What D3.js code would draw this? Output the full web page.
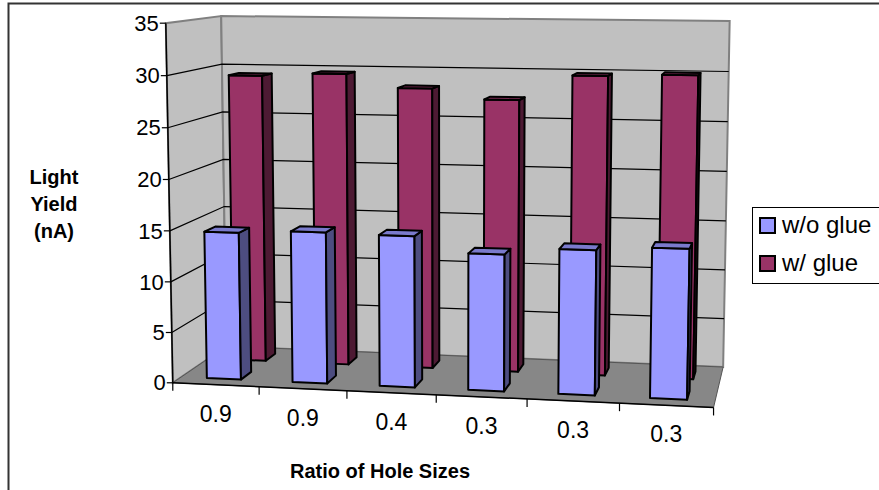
<!DOCTYPE html>
<html>
<head>
<meta charset="utf-8">
<script src="https://cdn.jsdelivr.net/npm/d3@7/dist/d3.min.js"></script>
<style>
  body { margin: 0; background: #fff; }
  svg { display: block; }
  text { font-family: "Liberation Sans", Arial, sans-serif; fill: #000; }
</style>
</head>
<body>
<svg id="chart"></svg>
<script>
const width = 879, height = 490;

// data
const categories = ["0.9", "0.9", "0.4", "0.3", "0.3", "0.3"];
const seriesNames = ["w/o glue", "w/ glue"];
const withoutGlue = [14.6, 14.9, 14.8, 13.3, 14.0, 14.4];
const withGlue = [29.3, 29.6, 28.3, 27.3, 29.8, 30.0];
const yTicks = [0, 5, 10, 15, 20, 25, 30, 35];

const seriesValues = { "w/o glue": withoutGlue, "w/ glue": withGlue };
const faceColors = {
    "w/o glue": { front: "#9999FF", side: "#4D4D80", top: "#7A7ACC" },
    "w/ glue": { front: "#993366", side: "#4D1A33", top: "#7A2952" }
};

// scales: category across, series in depth, value up (all to 0..1 in box space)
const xScale = d3.scaleBand().domain(d3.range(categories.length)).range([0, 1])
    .paddingInner(0.6).paddingOuter(0.3);
const zScale = d3.scaleBand().domain(seriesNames).range([0, 1])
    .paddingInner(0.6).paddingOuter(0.3);
const vScale = d3.scaleLinear().domain([0, 35]).range([0, 1]);

// where the corners of the plot box land on screen: [u, value, depth, x, y]
const boxCorners = [
    [0, 0, 0, 172, 382], [1, 0, 0, 713, 408],
    [0, 0, 1, 226, 347], [1, 0, 1, 723, 367],
    [0, 35, 0, 165, 24], [0, 35, 1, 222, 15], [1, 35, 1, 731, 21],
    [0, 30, 1, 222, 65], [1, 30, 1, 727, 71],
    [1/6, 0, 0, 260, 386.2], [2/6, 0, 0, 347, 390.4], [3/6, 0, 0, 436, 394.7],
    [4/6, 0, 0, 528, 399.1], [5/6, 0, 0, 620, 403.5]
];

// fit a perspective camera (DLT, least squares)
const CX = 440, CY = 220, S = 300;
function fitCamera(pts) {
    const rows = [], rhs = [];
    pts.forEach(([X, Y, Z, x, y]) => {
        const sx = (x - CX) / S, sy = (y - CY) / S;
        rows.push([X, Y, Z, 1, 0, 0, 0, 0, -sx * X, -sx * Y, -sx * Z]); rhs.push(sx);
        rows.push([0, 0, 0, 0, X, Y, Z, 1, -sy * X, -sy * Y, -sy * Z]); rhs.push(sy);
    });
    const n = 11;
    const M = d3.range(n).map(() => new Array(n + 1).fill(0));
    rows.forEach((r, k) => {
        for (let i = 0; i < n; i++) {
            for (let j = 0; j < n; j++) M[i][j] += r[i] * r[j];
            M[i][n] += r[i] * rhs[k];
        }
    });
    for (let c = 0; c < n; c++) {
        let piv = c;
        for (let r = c + 1; r < n; r++) if (Math.abs(M[r][c]) > Math.abs(M[piv][c])) piv = r;
        [M[c], M[piv]] = [M[piv], M[c]];
        for (let r = 0; r < n; r++) {
            if (r === c) continue;
            const f = M[r][c] / M[c][c];
            for (let k = c; k <= n; k++) M[r][k] -= f * M[c][k];
        }
    }
    return d3.range(n).map(i => M[i][n] / M[i][i]);
}
const P = fitCamera(boxCorners.map(([u, v, z, x, y]) => [u, vScale(v), z, x, y]));

function proj(u, h, z) {
    const w = P[8] * u + P[9] * h + P[10] * z + 1;
    return [
        (P[0] * u + P[1] * h + P[2] * z + P[3]) / w * S + CX,
        (P[4] * u + P[5] * h + P[6] * z + P[7]) / w * S + CY
    ];
}
const pts = list => list.map(p => proj(...p).join(",")).join(" ");
function area(list) {
    const q = list.map(p => proj(...p));
    return d3.polygonArea(q);
}

const svg = d3.select("#chart").attr("width", width).attr("height", height)
    .attr("viewBox", [0, 0, width, height]);

// outer frame (cropped on right/bottom)
svg.append("path").attr("d", "M8.5,490 V3.5 H879")
    .attr("fill", "none").attr("stroke", "#333").attr("stroke-width", 2);

// walls and floor
const walls = svg.append("g");
walls.append("polygon").attr("points", pts([[0, 0, 0], [0, 0, 1], [0, 1, 1], [0, 1, 0]]))
    .attr("fill", "#C0C0C0").attr("stroke", "#808080").attr("stroke-width", 2);
walls.append("polygon").attr("points", pts([[0, 0, 1], [1, 0, 1], [1, 1, 1], [0, 1, 1]]))
    .attr("fill", "#C0C0C0").attr("stroke", "#808080").attr("stroke-width", 2);
walls.append("polygon").attr("points", pts([[0, 0, 0], [1, 0, 0], [1, 0, 1], [0, 0, 1]]))
    .attr("fill", "#878787").attr("stroke", "#555").attr("stroke-width", 1);

// gridlines on left and back walls
walls.selectAll(".grid").data(yTicks.filter(t => t > 0 && t < 35)).join("polyline")
    .attr("class", "grid")
    .attr("points", t => pts([[0, vScale(t), 0], [0, vScale(t), 1], [1, vScale(t), 1]]))
    .attr("fill", "none").attr("stroke", "#000").attr("stroke-width", 1.2);

// value axis
const axis = svg.append("g");
axis.append("line")
    .attr("x1", proj(0, 0, 0)[0]).attr("y1", proj(0, 0, 0)[1])
    .attr("x2", proj(0, 1, 0)[0]).attr("y2", proj(0, 1, 0)[1])
    .attr("stroke", "#000").attr("stroke-width", 1.5);
yTicks.forEach(t => {
    const [x, y] = proj(0, vScale(t), 0);
    axis.append("line").attr("x1", x - 6).attr("y1", y).attr("x2", x).attr("y2", y)
        .attr("stroke", "#000").attr("stroke-width", 1.2);
    axis.append("text").attr("x", x - 7).attr("y", y).attr("dy", "0.35em")
        .attr("text-anchor", "end").style("font-size", "22px").text(t);
});

// category axis
axis.append("line")
    .attr("x1", proj(0, 0, 0)[0]).attr("y1", proj(0, 0, 0)[1])
    .attr("x2", proj(1, 0, 0)[0]).attr("y2", proj(1, 0, 0)[1])
    .attr("stroke", "#000").attr("stroke-width", 1.5);
d3.range(categories.length + 1).forEach(i => {
    const [x, y] = proj(i / categories.length, 0, 0);
    axis.append("line").attr("x1", x).attr("y1", y).attr("x2", x).attr("y2", y + 8)
        .attr("stroke", "#000").attr("stroke-width", 1.2);
});
categories.forEach((c, i) => {
    const [x, y] = proj(xScale(i) + xScale.bandwidth() / 2, 0, 0);
    axis.append("text").attr("x", x).attr("y", y + 29).attr("dy", "0.35em")
        .attr("text-anchor", "middle").style("font-size", "23px").text(c);
});

// bars, back row first, left to right
const bars = svg.append("g");
seriesNames.slice().reverse().forEach(name => {
    const col = faceColors[name];
    const z0 = zScale(name), z1 = z0 + zScale.bandwidth();
    seriesValues[name].forEach((val, i) => {
        const x0 = xScale(i), x1 = x0 + xScale.bandwidth(), h = vScale(val);
        const faces = [
            { p: [[x0, 0, z0], [x1, 0, z0], [x1, h, z0], [x0, h, z0]], fill: col.front },
            { p: [[x1, 0, z0], [x1, 0, z1], [x1, h, z1], [x1, h, z0]], fill: col.side },
            { p: [[x0, 0, z1], [x0, 0, z0], [x0, h, z0], [x0, h, z1]], fill: col.side },
            { p: [[x0, h, z0], [x1, h, z0], [x1, h, z1], [x0, h, z1]], fill: col.top }
        ];
        const ref = Math.sign(area(faces[0].p));
        const g = bars.append("g");
        faces.filter(f => Math.sign(area(f.p)) === ref).forEach(f => {
            g.append("polygon").attr("points", pts(f.p)).attr("fill", f.fill)
                .attr("stroke", "#000").attr("stroke-width", 2).attr("stroke-linejoin", "round");
        });
    });
});

// axis titles
svg.append("text").attr("x", 380).attr("y", 478).attr("text-anchor", "middle")
    .style("font-size", "20px").style("font-weight", "bold").text("Ratio of Hole Sizes");
const yTitle = svg.append("text").attr("text-anchor", "middle")
    .style("font-size", "20px").style("font-weight", "bold");
["Light", "Yield", "(nA)"].forEach((s, i) => {
    yTitle.append("tspan").attr("x", 54).attr("y", 184 + i * 27).text(s);
});

// legend
const legend = svg.append("g").attr("transform", "translate(752,207)");
legend.append("rect").attr("x", 0.5).attr("y", 0.5).attr("width", 160).attr("height", 76)
    .attr("fill", "#fff").attr("stroke", "#000").attr("stroke-width", 1);
seriesNames.forEach((name, i) => {
    const row = legend.append("g").attr("transform", `translate(0,${11 + i * 38})`);
    row.append("rect").attr("x", 8).attr("y", 0).attr("width", 15).attr("height", 15)
        .attr("fill", faceColors[name].front).attr("stroke", "#000").attr("stroke-width", 2);
    row.append("text").attr("x", 30).attr("y", 15).style("font-size", "24px").text(name);
});
</script>
</body>
</html>
